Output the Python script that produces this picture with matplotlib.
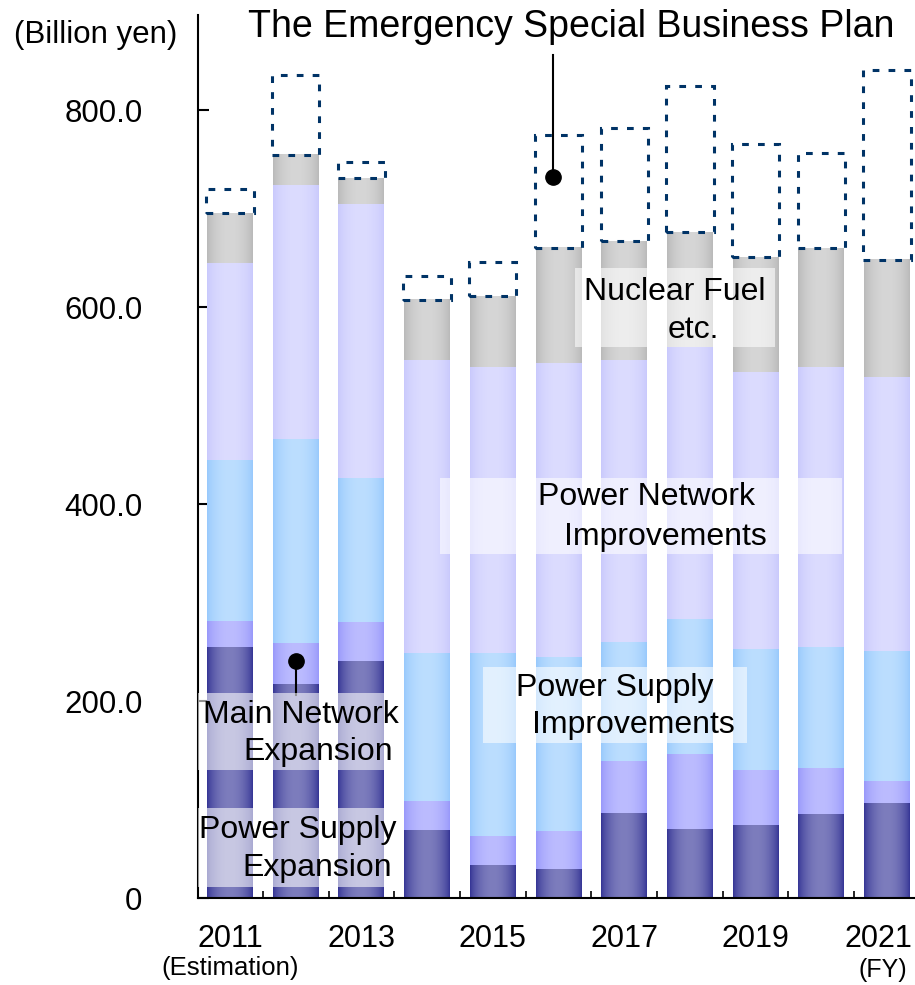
import numpy as np
import matplotlib.pyplot as plt
from matplotlib.colors import to_rgb

plt.rcParams['font.family'] = ['Liberation Sans', 'DejaVu Sans']

# data (billion yen)
years = ['2011', '2012', '2013', '2014', '2015', '2016', '2017', '2018', '2019', '2020', '2021']
supply_exp = [255, 217.5, 241, 68.6, 33.5, 29.9, 85.9, 70.1, 74.2, 85.4, 96.5]
network_exp = [26.5, 42, 39.5, 30.1, 29.5, 37.8, 53.6, 76.2, 55.9, 46.4, 22.4]
supply_imp = [163.5, 207, 146.3, 150.1, 185.8, 177.3, 120.2, 137.2, 122.9, 123.3, 132.1]
network_imp = [200.3, 258, 278.2, 298, 290.8, 298.2, 287.1, 276.7, 281.8, 284.8, 278.1]
nuclear = [50.7, 30.5, 26.4, 61, 71.9, 116.9, 120.7, 116.3, 116.6, 120.2, 119.3]
emergency = [24.5, 81.4, 15.8, 24.2, 34.1, 115.3, 115, 148.7, 114.9, 96.9, 192.3]

series = [supply_exp, network_exp, supply_imp, network_imp, nuclear]
# (edge colour, centre colour) for the shaded bars
shades = [('#353595', '#7d7dbd'), ('#9898fa', '#bcbcff'), ('#98c9fc', '#bcdeff'),
          ('#c9c9fc', '#dcdcff'), ('#b9b9b9', '#d6d6d6')]

W, H = 915, 985
fig = plt.figure(figsize=(W / 100, H / 100), dpi=100)
ax = fig.add_axes([198 / W, 87 / H, 1 - 198 / W, (898 - 15) / H])

x = np.arange(len(years))
bottom = np.zeros(len(years))
prof = np.sin(np.linspace(0, np.pi, 64)) ** 0.7
for vals, (c_edge, c_mid) in zip(series, shades):
    bars = ax.bar(x, vals, 0.7, bottom=bottom, color=c_mid, zorder=2)
    e, m = np.array(to_rgb(c_edge)), np.array(to_rgb(c_mid))
    grad = (e[None, :] + (m - e)[None, :] * prof[:, None])[None, :, :]
    for p in bars:
        ax.imshow(grad, extent=(p.get_x(), p.get_x() + p.get_width(),
                                p.get_y(), p.get_y() + p.get_height()),
                  aspect='auto', interpolation='bilinear', zorder=2.5)
    bottom += np.array(vals)

ax.bar(x, emergency, 0.72, bottom=bottom, fill=False, edgecolor='#003366',
       linewidth=2.2, linestyle=(0, (2.2, 3)), zorder=3)

ax.set_xlim(-0.487, 10.426)
ax.set_ylim(0, 897)
ax.set_aspect('auto')

for s in ['top', 'right']:
    ax.spines[s].set_visible(False)
ax.spines['left'].set_linewidth(1.5)
ax.spines['bottom'].set_linewidth(1.5)

ax.set_yticks([0, 200, 400, 600, 800])
ax.set_yticklabels(['0', '200.0', '400.0', '600.0', '800.0'])
ax.tick_params(axis='y', direction='in', length=8, width=1.5, pad=40, labelsize=22.5)
ax.set_xticks(x[:-1] + 0.5)
ax.set_xticklabels([])
ax.tick_params(axis='x', direction='in', length=5, width=1.2)

# year labels
for i, yr in enumerate(years[:-1]):
    if i % 2 == 0:
        ax.text(i, -42, yr, ha='center', va='center', fontsize=22)
ax.text(10.38, -42, years[-1], ha='right', va='center', fontsize=22)
ax.text(0, -71, '(Estimation)', ha='center', va='center', fontsize=18.5)
ax.text(10.3, -73, '(FY)', ha='right', va='center', fontsize=18)


def px(xp, yp):
    return xp / W, 1 - yp / H


# label boxes
boxes = [(198, 693, 190, 77), (198, 808, 190, 79), (483, 667, 264, 76),
         (440, 478, 402, 76), (575, 268, 200, 79)]
for bx, by, bw, bh in boxes:
    fig.patches.append(plt.Rectangle(px(bx, by + bh), bw / W, bh / H, transform=fig.transFigure,
                                     facecolor='white', alpha=0.58, edgecolor='none', zorder=4))

labels = [('Main Network', 301, 715), ('Expansion', 318, 752),
          ('Power Supply', 298, 830), ('Expansion', 317, 868),
          ('Power Supply', 615, 688), ('Improvements', 633, 725),
          ('Power Network', 647, 497), ('Improvements', 665, 537),
          ('Nuclear Fuel', 675, 292), ('etc.', 693, 330)]
for t, tx, ty in labels:
    fig.text(*px(tx, ty), t, ha='center', va='center', fontsize=23, zorder=5)

fig.text(*px(14, 35), '(Billion yen)', ha='left', va='center', fontsize=22.5)
fig.text(*px(571, 27), 'The Emergency Special Business Plan', ha='center', va='center', fontsize=27)

# frame line near title
fig.lines.append(plt.Line2D([910 / W, 910 / W], [1 - 16 / H, 1 - 47 / H],
                            color='black', lw=1.8, zorder=10))

# pointers
ax.plot([4.92, 4.92], [732.7, 856.7], color='black', lw=1.5, clip_on=False, zorder=6)
ax.plot([4.92], [732.7], 'o', color='black', ms=11, zorder=6)
ax.plot([1.0, 1.0], [206.3, 240.9], color='black', lw=1.5, zorder=6)
ax.plot([1.0], [240.9], 'o', color='black', ms=11, zorder=6)

fig.savefig('out.png', dpi=100)
